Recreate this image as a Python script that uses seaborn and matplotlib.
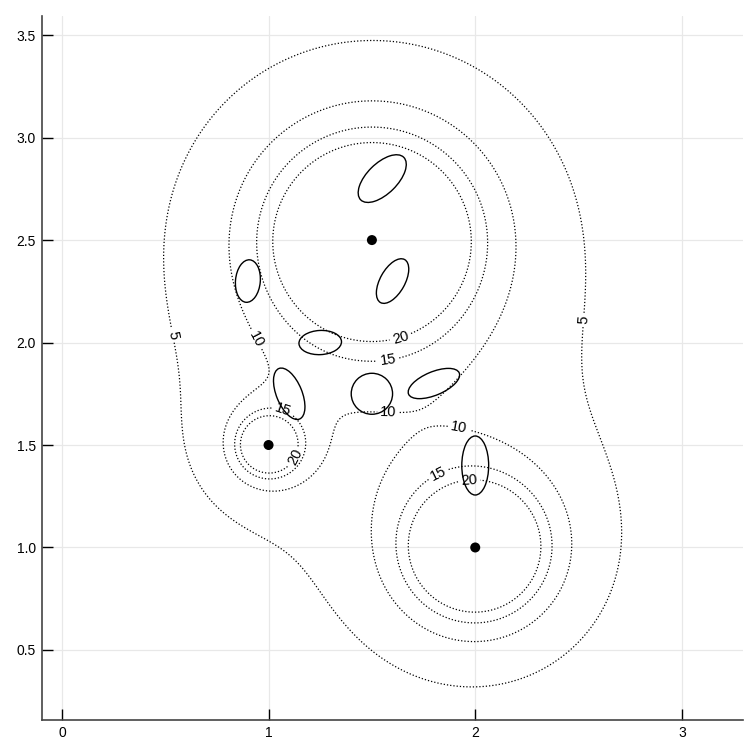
import numpy as np
import pandas as pd
import matplotlib
matplotlib.use("Agg")
import matplotlib.pyplot as plt
from matplotlib.patches import Ellipse
import seaborn as sns

# ---------------- data ----------------
# point sources (black dots) and their strengths
src_x = [1.0, 1.5, 2.0]
src_y = [1.5, 2.5, 1.0]
src_strength = [0.29, 4.4, 1.85]

# contour levels
levels = [5, 10, 15, 20]

# ellipses: centre, full width, full height, angle (deg)
ell_x = [1.55, 1.60, 0.90, 1.25, 1.50, 1.80, 1.10, 2.00]
ell_y = [2.80, 2.30, 2.30, 2.00, 1.75, 1.80, 1.75, 1.40]
ell_w = [0.294, 0.240, 0.208, 0.206, 0.200, 0.266, 0.266, 0.288]
ell_h = [0.148, 0.120, 0.120, 0.118, 0.200, 0.114, 0.124, 0.130]
ell_angle = [45, 61, 85, 3, 0, 23, 112, 90]

# axis ticks
xticks = [0, 1, 2, 3]
yticks = [0.5, 1.0, 1.5, 2.0, 2.5, 3.0, 3.5]

# where the contour labels sit
label_pos = [(0.52, 2.03), (2.53, 2.11),
             (0.93, 2.01), (1.58, 1.65), (1.92, 1.58),
             (1.58, 1.91), (1.07, 1.68), (1.82, 1.36),
             (1.64, 2.02), (1.13, 1.44), (1.97, 1.33)]

# ---------------- field on a grid ----------------
gx = np.linspace(-0.1, 3.3, 500)
gy = np.linspace(0.15, 3.6, 500)
X, Y = np.meshgrid(gx, gy)
Z = np.zeros_like(X)
for sx, sy, a in zip(src_x, src_y, src_strength):
    r2 = (X - sx) ** 2 + (Y - sy) ** 2
    Z += a / np.maximum(r2, 1e-6)

points = pd.DataFrame({"x": src_x, "y": src_y})

# ---------------- plot ----------------
sns.set_theme(style="whitegrid")
plt.rcParams["font.family"] = ["Liberation Sans", "DejaVu Sans"]

fig = plt.figure(figsize=(7.44, 7.41), dpi=100)
ax = fig.add_axes([0.0565, 0.0283, 0.942, 0.950])

cs = ax.contour(X, Y, Z, levels=levels, colors="black",
                linewidths=0.9, linestyles=[(0, (1, 1.6))])
ax.clabel(cs, fmt="%d", fontsize=10.5, inline=True, inline_spacing=3,
          manual=label_pos)

for cx, cy, w, h, ang in zip(ell_x, ell_y, ell_w, ell_h, ell_angle):
    ax.add_patch(Ellipse((cx, cy), w, h, angle=ang, fill=False,
                         edgecolor="black", linewidth=1.0))

sns.scatterplot(data=points, x="x", y="y", color="black", s=52,
                edgecolor="none", ax=ax, zorder=5)

ax.set_xlim(-0.096, 3.295)
ax.set_ylim(0.158, 3.593)
ax.set_xticks(xticks)
ax.set_yticks(yticks)
ax.set_xticklabels([str(t) for t in xticks])
ax.set_yticklabels([f"{t:.1f}" for t in yticks])
ax.set_xlabel("")
ax.set_ylabel("")

ax.set_facecolor("white")
ax.grid(True, color="#e8e8e8", linewidth=0.9)
for side in ["top", "right"]:
    ax.spines[side].set_visible(False)
for side in ["left", "bottom"]:
    ax.spines[side].set_visible(True)
    ax.spines[side].set_color("#444444")
    ax.spines[side].set_linewidth(1.2)
ax.tick_params(direction="in", length=8, width=1, color="black",
               labelsize=10, pad=4.5, colors="black",
               left=True, bottom=True)

fig.savefig("out.png", dpi=100)
